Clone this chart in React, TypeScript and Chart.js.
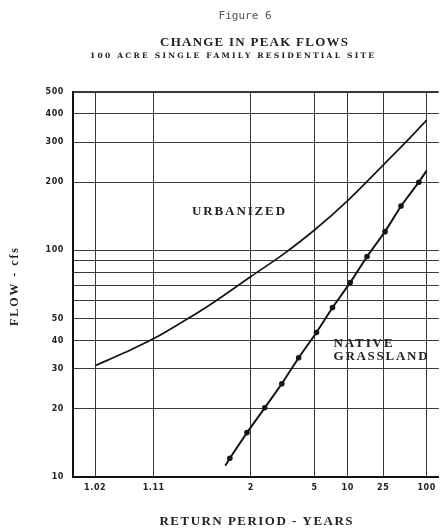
import React, { useEffect, useRef } from 'react';
import { Chart, registerables } from 'chart.js';

Chart.register(...registerables);

// ---- data ----
const returnPeriodTicks = [1.02, 1.11, 2, 5, 10, 25, 100];
const returnPeriodLabels = ['1.02', '1.11', '2', '5', '10', '25', '100'];
const flowGridValues = [10, 20, 30, 40, 50, 60, 70, 80, 90, 100, 200, 300, 400, 500];
const flowLabelledValues = [10, 20, 30, 40, 50, 100, 200, 300, 400, 500];

const urbanizedT = [1.02, 1.05, 1.11, 1.2, 1.4, 2, 3, 5, 10, 25, 50, 100];
const urbanizedQ = [31, 35.4, 40.8, 47.0, 56.8, 76.7, 96.3, 123, 166, 238, 301, 376];

const nativeT = [1.58, 1.64, 1.92, 2.34, 2.93, 3.79, 5.19, 7.14, 10.6, 16.1, 26.4, 42.6, 76.3, 100];
const nativeQ = [11.2, 12.1, 15.7, 20.2, 25.8, 33.6, 43.4, 56.0, 72.1, 94.0, 121, 157, 200, 225];

const figureLabel = 'Figure 6';
const titleText = 'CHANGE IN PEAK FLOWS';
const subtitleText = '100 ACRE SINGLE FAMILY RESIDENTIAL SITE';
const yTitle = 'FLOW - cfs';
const xTitle = 'RETURN PERIOD - YEARS';
const urbanLabel = 'URBANIZED';
const nativeLabel1 = 'NATIVE';
const nativeLabel2 = 'GRASSLAND';

// ---- normal probability axis transform ----
function normInv(p: number): number {
  const a = [-3.969683028665376e1, 2.209460984245205e2, -2.759285104469687e2, 1.38357751867269e2, -3.066479806614716e1, 2.506628277459239];
  const b = [-5.447609879822406e1, 1.615858368580409e2, -1.556989798598866e2, 6.680131188771972e1, -1.328068155288572e1];
  const c = [-7.784894002430293e-3, -3.223964580411365e-1, -2.400758277161838, -2.549732539343734, 4.374664141464968, 2.938163982698783];
  const d = [7.784695709041462e-3, 3.224671290700398e-1, 2.445134137142996, 3.754408661907416];
  const pl = 0.02425;
  const ph = 1 - pl;
  let q: number, r: number;
  if (p < pl) {
    q = Math.sqrt(-2 * Math.log(p));
    return (((((c[0] * q + c[1]) * q + c[2]) * q + c[3]) * q + c[4]) * q + c[5]) / ((((d[0] * q + d[1]) * q + d[2]) * q + d[3]) * q + 1);
  }
  if (p <= ph) {
    q = p - 0.5;
    r = q * q;
    return ((((((a[0] * r + a[1]) * r + a[2]) * r + a[3]) * r + a[4]) * r + a[5]) * q) / (((((b[0] * r + b[1]) * r + b[2]) * r + b[3]) * r + b[4]) * r + 1);
  }
  q = Math.sqrt(-2 * Math.log(1 - p));
  return -(((((c[0] * q + c[1]) * q + c[2]) * q + c[3]) * q + c[4]) * q + c[5]) / ((((d[0] * q + d[1]) * q + d[2]) * q + d[3]) * q + 1);
}
const zOf = (T: number) => normInv(1 - 1 / T);

function fitText(ctx: CanvasRenderingContext2D, text: string, x: number, y: number, width: number, font: string, align: 'center' | 'left') {
  ctx.font = font;
  (ctx as any).letterSpacing = '0px';
  const w = ctx.measureText(text).width;
  const n = text.length;
  const ls = n > 1 ? (width - w) / (n - 1) : 0;
  (ctx as any).letterSpacing = ls + 'px';
  ctx.textAlign = 'left';
  ctx.textBaseline = 'middle';
  const sx = align === 'center' ? x - width / 2 : x;
  ctx.fillText(text, sx, y);
  (ctx as any).letterSpacing = '0px';
}

const textPlugin = {
  id: 'texts',
  beforeDraw(chart: any) {
    (chart.ctx as any).letterSpacing = '0.6px';
  },
  beforeDatasetsDraw(chart: any) {
    (chart.ctx as any).letterSpacing = '0px';
  },
  afterDraw(chart: any) {
    const ctx: CanvasRenderingContext2D = chart.ctx;
    const xs = chart.scales.x;
    const ys = chart.scales.y;
    ctx.save();
    ctx.fillStyle = '#555';
    fitText(ctx, figureLabel, 245, 16, 53, '11px "DejaVu Sans Mono"', 'center');
    ctx.fillStyle = '#222';
    fitText(ctx, titleText, 254, 43, 188, 'bold 13px "Liberation Serif"', 'center');
    fitText(ctx, subtitleText, 232, 56, 284, 'bold 7.5px "DejaVu Serif"', 'center');
    fitText(ctx, xTitle, 256, 522, 193, 'bold 13px "Liberation Serif"', 'center');
    ctx.save();
    ctx.translate(15, 287);
    ctx.rotate(-Math.PI / 2);
    fitText(ctx, yTitle, 0, 0, 78, 'bold 12px "Liberation Serif"', 'center');
    ctx.restore();
    const ux = xs.getPixelForValue(zOf(1.77));
    fitText(ctx, urbanLabel, ux, ys.getPixelForValue(149), 93, 'bold 13px "Liberation Serif"', 'center');
    const nx = xs.getPixelForValue(zOf(7.3));
    fitText(ctx, nativeLabel1, nx, ys.getPixelForValue(38.7), 59, 'bold 13px "Liberation Serif"', 'left');
    fitText(ctx, nativeLabel2, nx, ys.getPixelForValue(34), 94, 'bold 13px "Liberation Serif"', 'left');
    ctx.restore();
  },
};

export default function App() {
  const ref = useRef<HTMLCanvasElement | null>(null);
  useEffect(() => {
    if (!ref.current) return;
    const lastNative = nativeT.length - 1;
    const chart = new Chart(ref.current, {
      type: 'line',
      data: {
        datasets: [
          {
            label: 'Urbanized',
            data: urbanizedT.map((t, i) => ({ x: zOf(t), y: urbanizedQ[i] })),
            borderColor: '#151515',
            borderWidth: 1.7,
            pointRadius: 0,
            tension: 0.4,
            fill: false,
          },
          {
            label: 'Native grassland',
            data: nativeT.map((t, i) => ({ x: zOf(t), y: nativeQ[i] })),
            borderColor: '#151515',
            borderWidth: 2,
            pointRadius: (c: any) => (c.dataIndex === 0 || c.dataIndex === lastNative ? 0 : 2.8),
            pointBackgroundColor: '#151515',
            pointBorderWidth: 0,
            fill: false,
          },
        ],
      },
      options: {
        responsive: false,
        animation: false,
        devicePixelRatio: 1,
        layout: { padding: { top: 92, right: 0, bottom: 0, left: 0 } },
        plugins: { legend: { display: false }, tooltip: { enabled: false }, title: { display: false } },
        scales: {
          x: {
            type: 'linear',
            min: -2.355,
            max: 2.487,
            afterBuildTicks: (s: any) => {
              s.ticks = returnPeriodTicks.map((t) => ({ value: zOf(t) }));
            },
            afterFit: (s: any) => {
              s.height = 52;
            },
            ticks: {
              autoSkip: false,
              maxRotation: 0,
              padding: 6,
              color: '#222',
              font: { family: '"DejaVu Sans"', size: 8, weight: 'bold' },
              callback: (_v: any, i: number) => returnPeriodLabels[i],
            },
            grid: { color: '#3a3a3a', lineWidth: 1, drawTicks: false },
            border: { display: true, color: '#111', width: 2 },
          },
          y: {
            type: 'logarithmic',
            min: 10,
            max: 500,
            afterBuildTicks: (s: any) => {
              s.ticks = flowGridValues.map((v) => ({ value: v }));
            },
            afterFit: (s: any) => {
              s.width = 73;
            },
            ticks: {
              autoSkip: false,
              padding: 9,
              color: '#222',
              font: { family: '"DejaVu Sans"', size: 8, weight: 'bold' },
              callback: (v: any) => (flowLabelledValues.includes(Number(v)) ? String(v) : ''),
            },
            grid: {
              color: '#3a3a3a',
              lineWidth: (c: any) => (c.tick && c.tick.value === 500 ? 2 : 1),
              drawTicks: false,
            },
            border: { display: true, color: '#111', width: 2 },
          },
        },
      },
      plugins: [textPlugin],
    } as any);
    return () => chart.destroy();
  }, []);
  return (
    <div style={{ position: 'absolute', left: 0, top: 0, width: 441, height: 529, background: '#fff' }}>
      <canvas ref={ref} width={441} height={529} style={{ display: 'block', width: 441, height: 529 }} />
    </div>
  );
}
